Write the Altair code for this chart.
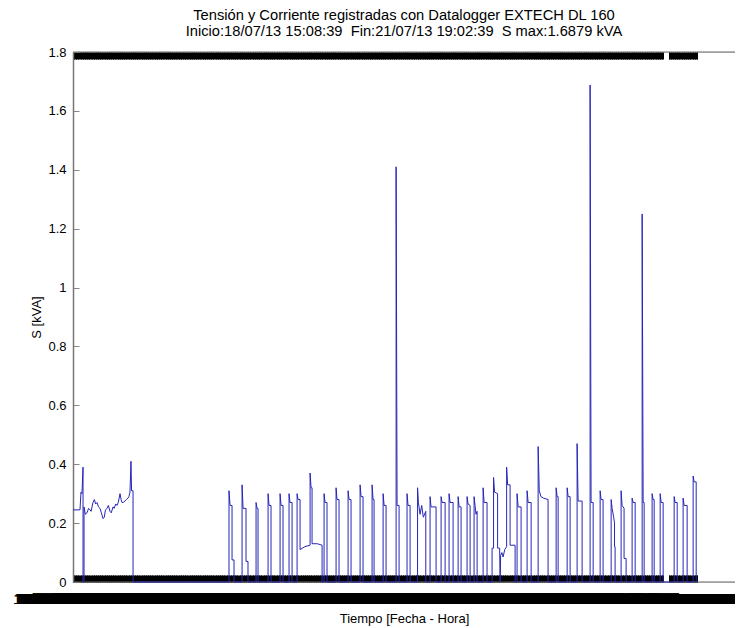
import altair as alt
import pandas as pd

START = "2013-07-18 15:08:39"

# Time (hours since start) and apparent power S [kVA]
t_hours = [
    0, 0.85, 0.97, 1.09, 1.22, 1.22, 1.34, 1.34, 1.5, 1.70, 1.9, 2.07, 2.2, 2.43, 2.6, 2.75, 2.92,
    3.1, 3.28, 3.45, 3.65, 3.8, 3.95, 4.14, 4.3, 4.50, 4.65, 4.87, 5.0, 5.2, 5.35, 5.5, 5.72,
    5.85, 5.96, 6.1, 6.32, 6.5, 6.69, 6.8, 6.93, 7.05, 7.12, 7.30, 7.30,
    18.97, 18.97, 19.10, 19.34, 19.34, 19.58, 19.58,
    20.56, 20.56, 20.68, 21.04, 21.04, 21.28, 21.28,
    22.26, 22.26, 22.38, 22.50, 22.50,
    23.72, 23.72, 23.84, 24.08, 24.08,
    25.18, 25.18, 25.30, 25.54, 25.54,
    26.27, 26.27, 26.39, 26.64, 26.64,
    27.25, 27.25, 27.37, 27.61, 27.61, 28.2, 28.83, 28.83, 28.95, 29.07, 29.07, 29.7, 30.29, 30.29,
    30.53, 30.53, 30.65, 30.89, 30.89,
    31.99, 31.99, 32.11, 32.35, 32.35,
    33.45, 33.45, 33.57, 33.81, 33.81,
    34.91, 34.91, 35.03, 35.27, 35.27,
    36.37, 36.37, 36.49, 36.61, 36.61,
    37.71, 37.71, 37.83, 38.07, 38.07,
    39.29, 39.29, 39.41, 39.65, 39.65,
    40.62, 40.62, 40.74, 40.99, 40.99,
    41.90, 41.90, 42.0, 42.2, 42.4, 42.6, 42.9, 42.9,
    43.42, 43.42, 43.54, 44.15, 44.15,
    44.76, 44.76, 44.88, 45.25, 45.25,
    45.73, 45.73, 45.85, 46.22, 46.22,
    46.83, 46.83, 46.95, 47.19, 47.19,
    47.92, 47.92, 48.04, 48.29, 48.29,
    48.77, 48.77, 48.89, 49.0, 49.14, 49.14,
    49.87, 49.87, 49.99, 50.35, 50.35,
    50.96, 50.96, 51.14, 51.14, 51.26, 51.63, 51.63, 51.88, 51.94, 52.0, 52.15, 52.30, 52.5,
    52.73, 52.73, 52.85, 53.15, 53.15, 53.76, 53.76,
    54.00, 54.00, 54.13, 54.49, 54.49,
    55.22, 55.22, 55.34, 55.71, 55.71,
    56.56, 56.56, 56.70, 56.9, 57.2, 57.77, 57.77,
    58.75, 58.75, 58.87, 58.99, 58.99,
    60.09, 60.09, 60.21, 60.45, 60.45,
    61.30, 61.30, 61.42, 61.91, 61.91,
    62.88, 62.88, 63.00, 63.25, 63.25,
    64.10, 64.10, 64.22, 64.46, 64.46,
    65.44, 65.44, 65.56, 65.75, 65.85, 65.85, 65.92, 65.92,
    66.65, 66.65, 66.77, 67.01, 67.01, 67.26, 67.26,
    67.99, 67.99, 68.11, 68.36, 68.36,
    69.21, 69.21, 69.33, 69.45, 69.45,
    70.42, 70.42, 70.54, 70.67, 70.67,
    71.40, 71.40, 71.52, 71.76, 71.76,
    73.10, 73.10, 73.22, 73.47, 73.47,
    74.19, 74.19, 74.31, 74.68, 74.68,
    75.41, 75.41, 75.53, 75.78, 75.78, 75.90,
]
s_kva = [
    0.245, 0.245, 0.305, 0.30, 0.39, 0, 0, 0.255, 0.23, 0.235, 0.25, 0.245, 0.24, 0.27, 0.28, 0.265, 0.27,
    0.255, 0.25, 0.235, 0.215, 0.22, 0.245, 0.25, 0.26, 0.24, 0.235, 0.255, 0.25, 0.265, 0.26, 0.27, 0.30,
    0.28, 0.27, 0.27, 0.275, 0.28, 0.285, 0.29, 0.305, 0.41, 0.31, 0.31, 0,
    0, 0.31, 0.26, 0.26, 0.075, 0.075, 0,
    0, 0.33, 0.25, 0.25, 0.07, 0.07, 0,
    0, 0.27, 0.25, 0.25, 0,
    0, 0.30, 0.26, 0.26, 0,
    0, 0.30, 0.26, 0.26, 0,
    0, 0.30, 0.27, 0.27, 0,
    0, 0.30, 0.28, 0.28, 0.11, 0.12, 0.125, 0.37, 0.32, 0.32, 0.13, 0.13, 0.125, 0,
    0, 0.30, 0.27, 0.27, 0,
    0, 0.32, 0.28, 0.28, 0,
    0, 0.31, 0.28, 0.28, 0,
    0, 0.33, 0.29, 0.29, 0,
    0, 0.33, 0.28, 0.28, 0,
    0, 0.30, 0.26, 0.26, 0,
    0, 1.41, 0.26, 0.26, 0,
    0, 0.30, 0.26, 0.26, 0,
    0, 0.32, 0.27, 0.23, 0.26, 0.22, 0.24, 0,
    0, 0.29, 0.255, 0.255, 0,
    0, 0.29, 0.27, 0.27, 0,
    0, 0.30, 0.27, 0.27, 0,
    0, 0.29, 0.255, 0.255, 0,
    0, 0.29, 0.265, 0.26, 0,
    0, 0.29, 0.26, 0.23, 0.24, 0,
    0, 0.32, 0.27, 0.27, 0,
    0, 0.115, 0.115, 0.355, 0.305, 0.30, 0.115, 0.115, 0, 0.09, 0.10, 0.085, 0.11,
    0.12, 0.39, 0.33, 0.33, 0.125, 0.125, 0,
    0, 0.30, 0.255, 0.255, 0,
    0, 0.31, 0.27, 0.27, 0,
    0, 0.46, 0.31, 0.29, 0.285, 0.28, 0,
    0, 0.32, 0.29, 0.29, 0,
    0, 0.32, 0.29, 0.29, 0,
    0, 0.47, 0.275, 0.275, 0,
    0, 1.6879, 0.27, 0.27, 0,
    0, 0.31, 0.28, 0.28, 0,
    0, 0.28, 0.25, 0.22, 0.20, 0.12, 0.12, 0,
    0, 0.31, 0.26, 0.25, 0.08, 0.08, 0,
    0, 0.285, 0.27, 0.27, 0,
    0, 1.25, 0.27, 0.27, 0,
    0, 0.30, 0.28, 0.28, 0,
    0, 0.30, 0.27, 0.27, 0,
    0, 0.29, 0.27, 0.27, 0,
    0, 0.285, 0.26, 0.26, 0,
    0, 0.36, 0.34, 0.34, 0, 0,
]

NB2 = "\u00a0\u00a0"
title_lines = [
    "Tensión y Corriente registradas con Datalogger EXTECH DL 160",
    "Inicio:18/07/13 15:08:39" + NB2 + "Fin:21/07/13 19:02:39" + NB2 + "S max:1.6879 kVA",
]
y_ticks = [0, 0.2, 0.4, 0.6, 0.8, 1.0, 1.2, 1.4, 1.6, 1.8]
y_limits = [0, 1.8]
x_end_hours = 80.5          # right limit of the time axis
tick_step_min = 5           # sample/tick interval
tick_gap = (71.78, 72.36)   # interval without samples

start = pd.Timestamp(START)
start_ms = int(pd.Timestamp(START, tz="UTC").value // 10**6)
times = [(start + pd.Timedelta(hours=h)).strftime("%Y-%m-%dT%H:%M:%S") + "Z" for h in t_hours]
df = pd.DataFrame({"t": times, "s": s_kva, "k": list(range(len(times)))})
frame_df = pd.DataFrame({"yv": y_limits})

n_ticks = int(75.92 * 60 / tick_step_min) + 1
tick_ms = []
for i in range(n_ticks):
    h = i * tick_step_min / 60.0
    if tick_gap[0] < h < tick_gap[1]:
        continue
    tick_ms.append(start_ms + i * tick_step_min * 60000)

W, H = 662, 530
FONT = "Liberation Sans"
x_scale = alt.Scale(type="utc", domain=[start_ms, start_ms + int(x_end_hours * 3600000)])
y_scale = alt.Scale(domain=y_limits)
base = alt.Chart(df)

line = base.mark_line(color="#2626b8", strokeWidth=1).encode(
    x=alt.X("t:T", scale=x_scale, axis=alt.Axis(
        orient="bottom", values=tick_ms, format="%d/%m/%y %H:%M:%S",
        labelOverlap=False, labelFlush=False, labelAngle=0,
        labelFont=FONT, labelFontSize=15, labelColor="black", labelPadding=9,
        ticks=False, tickSize=0, domain=False, grid=False,
        title="Tiempo [Fecha - Hora]", titleFont=FONT, titleFontSize=13,
        titleFontWeight="normal", titleColor="black", titlePadding=6)),
    y=alt.Y("s:Q", scale=y_scale, axis=alt.Axis(
        orient="left", values=y_ticks, format="~g",
        labelFont=FONT, labelFontSize=13, labelColor="black", labelPadding=7,
        ticks=False, tickSize=0, domain=True, domainColor="#777", domainWidth=1.5,
        grid=False, title="S [kVA]", titleFont=FONT, titleFontSize=13,
        titleFontWeight="normal", titleColor="black", titlePadding=4)),
    order=alt.Order("k:Q"),
)

frame = alt.Chart(frame_df).mark_rule(color="#666", strokeWidth=1).encode(
    y=alt.Y("yv:Q", scale=y_scale, axis=None),
)

ticks_bottom = base.mark_line(opacity=0).encode(
    x=alt.X("t:T", scale=x_scale, title=None, axis=alt.Axis(
        orient="top", offset=-H, values=tick_ms, labels=False,
        ticks=True, tickSize=7, tickWidth=1, tickColor="black",
        domain=False, grid=False)),
    y=alt.Y("s:Q", scale=y_scale, title=None, axis=alt.Axis(
        orient="right", offset=-W, values=y_ticks, labels=False,
        ticks=True, tickSize=6, tickColor="#888", domain=False, grid=False)),
    order=alt.Order("k:Q"),
)

ticks_top = base.mark_line(opacity=0).encode(
    x=alt.X("t:T", scale=x_scale, title=None, axis=alt.Axis(
        orient="bottom", offset=-H, values=tick_ms, labels=False,
        ticks=True, tickSize=7, tickWidth=1, tickColor="black",
        domain=False, grid=False)),
    y=alt.Y("s:Q", scale=y_scale, axis=None),
    order=alt.Order("k:Q"),
)

chart = alt.layer(frame, ticks_bottom, ticks_top, line).resolve_axis(
    x="independent", y="independent"
).properties(
    width=W, height=H,
    autosize=alt.AutoSizeParams(type="none"),
    padding={"left": 65, "top": 44, "right": 0, "bottom": 44},
    title=alt.TitleParams(text=title_lines, font=FONT, fontSize=14.7, fontWeight="normal",
                          color="black", anchor="middle", offset=7, lineHeight=16),
).configure_view(stroke=None).configure(background="white")

chart.save("out.html", embed_options={"renderer": "svg", "actions": False})
